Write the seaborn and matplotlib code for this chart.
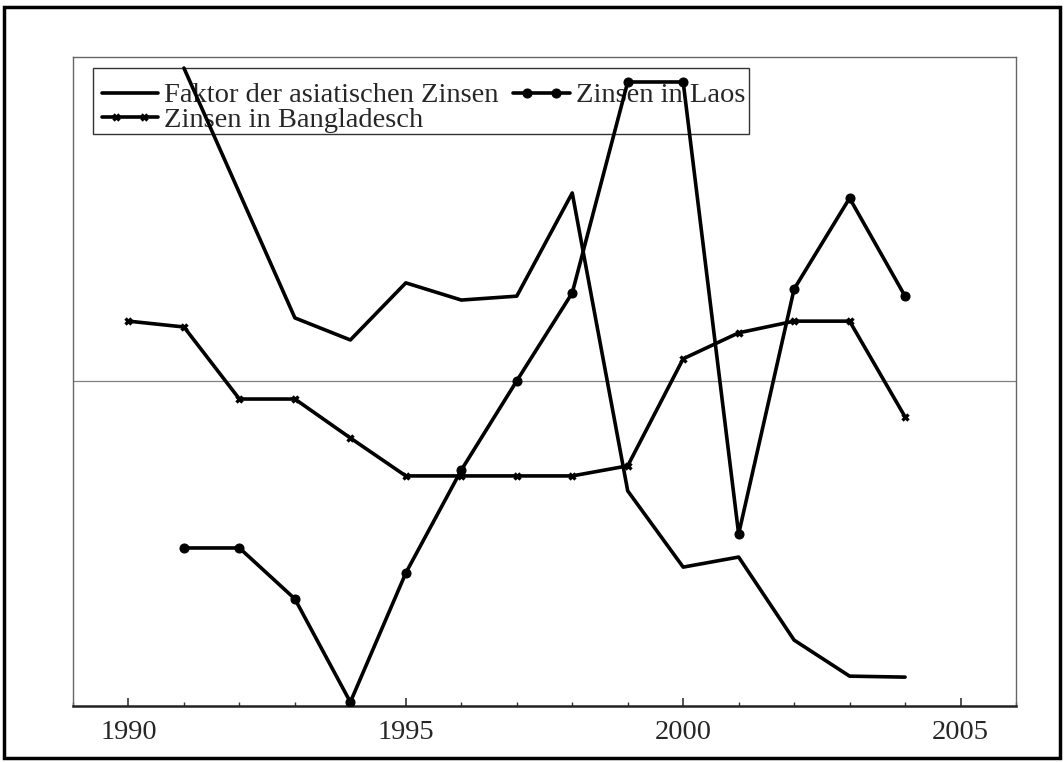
import matplotlib
matplotlib.use("Agg")
import matplotlib.pyplot as plt
import seaborn as sns
import pandas as pd
import numpy as np
from matplotlib.patches import Rectangle
from matplotlib.ticker import MultipleLocator
from matplotlib.legend_handler import HandlerLine2DCompound
from matplotlib.lines import Line2D

years_faktor = [1991, 1992, 1993, 1994, 1995, 1996, 1997, 1998, 1999, 2000, 2001, 2002, 2003, 2004]
faktor = [0.966, 0.581, 0.196, 0.128, 0.304, 0.251, 0.263, 0.581, -0.337, -0.572, -0.541, -0.797, -0.908, -0.911]

years_laos = [1991, 1992, 1993, 1994, 1995, 1996, 1997, 1998, 1999, 2000, 2001, 2002, 2003, 2004]
laos = [-0.513, -0.513, -0.670, -0.988, -0.590, -0.273, 0.002, 0.273, 0.923, 0.923, -0.470, 0.285, 0.565, 0.263]

years_bang = [1990, 1991, 1992, 1993, 1994, 1995, 1996, 1997, 1998, 1999, 2000, 2001, 2002, 2003, 2004]
bang = [0.186, 0.168, -0.054, -0.054, -0.174, -0.291, -0.291, -0.291, -0.291, -0.260, 0.070, 0.150, 0.186, 0.186, -0.109]

labels = ["Faktor der asiatischen Zinsen", "Zinsen in Laos", "Zinsen in Bangladesch"]
xticks = [1990, 1995, 2000, 2005]

sns.set_style("white")
plt.rcParams['font.family'] = ['Liberation Serif', 'DejaVu Serif']


class InsetMarkerHandler(HandlerLine2DCompound):
    def get_xdata(self, legend, xdescent, ydescent, width, height, fontsize):
        xline = np.array([-xdescent, width - xdescent])
        xm = np.linspace(-xdescent + 0.5 * fontsize, width - xdescent - 0.5 * fontsize, 2)
        return xline, xm


fig = plt.figure(figsize=(10.64, 7.62), dpi=100)
ax = fig.add_axes([73/1064, 1-706/762, (1016-73)/1064, (706-57)/762])

df_f = pd.DataFrame({"Jahr": years_faktor, "Wert": faktor})
df_l = pd.DataFrame({"Jahr": years_laos, "Wert": laos})
df_b = pd.DataFrame({"Jahr": years_bang, "Wert": bang})

LW = 2.6
ax.axhline(0, color="#808080", lw=0.9, zorder=1)
sns.lineplot(data=df_f, x="Jahr", y="Wert", ax=ax, color="black", lw=LW,
             label=labels[0], zorder=3)
sns.lineplot(data=df_b, x="Jahr", y="Wert", ax=ax, color="black", lw=LW,
             marker="x", markersize=5, markeredgewidth=2.4, markeredgecolor="black",
             label=labels[2], zorder=3)
sns.lineplot(data=df_l, x="Jahr", y="Wert", ax=ax, color="black", lw=LW,
             marker="o", markersize=6.5, markeredgecolor="black", markerfacecolor="black",
             label=labels[1], zorder=3)

ax.set_xlim(1989, 2006)
ax.set_ylim(-1, 1)
ax.set_xlabel("")
ax.set_ylabel("")
ax.set_yticks([])
ax.set_xticks(xticks)
ax.set_xticklabels([str(t) for t in xticks])
ax.xaxis.set_minor_locator(MultipleLocator(1))
ax.tick_params(axis="x", which="major", direction="in", length=6, width=1.2,
               labelsize=20.5, pad=10, bottom=True, color="#333333")
ax.tick_params(axis="x", which="minor", direction="in", length=3, width=1.0,
               bottom=True, color="#333333")

for side in ["top", "left", "right"]:
    ax.spines[side].set_color("#666666")
    ax.spines[side].set_linewidth(1.0)
    ax.spines[side].set_visible(True)
ax.spines["bottom"].set_color("#222222")
ax.spines["bottom"].set_linewidth(1.8)
ax.spines["bottom"].set_visible(True)

handles, lbls = ax.get_legend_handles_labels()
leg = ax.legend(handles, lbls, loc="upper left", bbox_to_anchor=(20/943, 1-17/649), ncol=2,
                fontsize=20.5, frameon=False, handlelength=2.0, handletextpad=0.2,
                columnspacing=0.5, borderpad=0.3, labelspacing=-0.05,
                borderaxespad=0,
                handler_map={Line2D: InsetMarkerHandler(numpoints=2)})
leg.set_zorder(1)

# legend frame
ax.add_patch(Rectangle(((93-73)/943, (706-134)/649), (749-93)/943, (134-68)/649,
                       transform=ax.transAxes, fill=False, edgecolor="#333333",
                       lw=1.0, zorder=1, clip_on=False))

fig.patches.append(Rectangle((4/1064, 4/762), 1056/1064, 751/762, transform=fig.transFigure,
                             fill=False, edgecolor="black", lw=2.5))

fig.savefig("out.png", dpi=100)
